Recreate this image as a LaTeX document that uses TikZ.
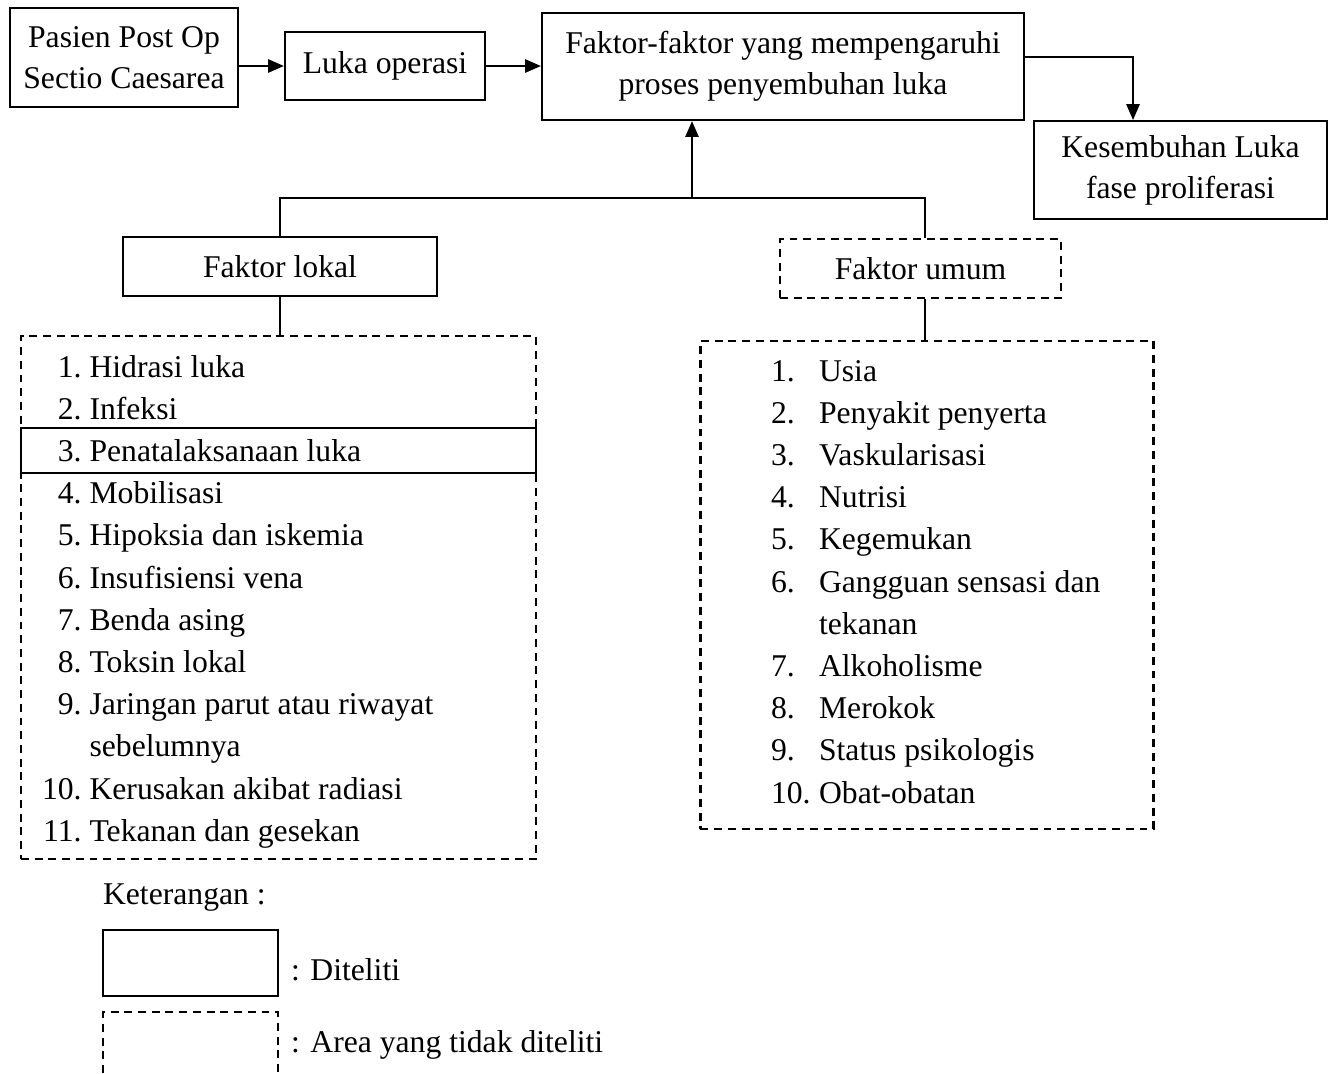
\documentclass[tikz,border=0pt]{standalone}
\usepackage{fontspec}
\setmainfont{Liberation Serif}
\usetikzlibrary{arrows.meta}

\begin{document}
\begin{tikzpicture}[
    x=0.379pt, y=-0.379pt,
    line width=0.8pt,
    every node/.style={font=\fontsize{12}{15.5}\selectfont},
    box/.style={draw, line width=0.8pt, inner sep=2pt, align=center},
    dbox/.style={box, dash pattern=on 3pt off 2.2pt},
    arrow/.style={-{Triangle[length=6pt,width=5pt]}},
    items/.style={inner sep=0pt, anchor=base west, font=\fontsize{12}{16}\selectfont}
]

    % Canvas
    \useasboundingbox (0,0) rectangle (1334,1073);

    % --- TOP ROW ---
    \node[box, minimum width=86.4pt, minimum height=37.5pt] (pasien) at (124,57.5) {Pasien Post Op\\Sectio Caesarea};
    \node[box, minimum width=75.8pt, minimum height=25.8pt] (luka) at (385,66) {Luka operasi};
    \node[box, minimum width=182.7pt, minimum height=40.6pt] (faktor) at (783,66.5) {Faktor-faktor yang mempengaruhi\\proses penyembuhan luka};
    \node[box, minimum width=111pt, minimum height=37.1pt] (sembuh) at (1180.5,170) {Kesembuhan Luka\\fase proliferasi};

    \draw[arrow] (pasien.east |- luka.west) -- (luka.west);
    \draw[arrow] (luka.east) -- (luka.east -| faktor.west);
    \draw[arrow] ([yshift=3.6pt]faktor.east) -| ([xshift=-18pt]sembuh.north);

    % --- FACTOR BRANCHES ---
    \node[box, minimum width=119pt, minimum height=22.4pt] (lokal) at (280,266.5) {Faktor lokal};
    \node[dbox, minimum width=106.5pt, minimum height=22.4pt] (umum) at (920.5,268.5) {Faktor umum};

    \coordinate (join) at (692,198);
    \draw[arrow] (join) -- (join |- faktor.south);
    \draw (lokal.north) |- (join) -| ([xshift=1.7pt]umum.north);

    % --- LOCAL FACTORS (list) ---
    \node[dbox, minimum width=195.2pt, minimum height=198.2pt] (lokallist) at (278.5,597.5) {};
    \node[box, minimum width=195.2pt, minimum height=17.1pt] (penata) at (278.5,450.5) {};
    \draw (lokal.south) -- (lokal.south |- lokallist.north);

    \node[items] (lokaltext) at (41,377) {%
        \begin{tabular}[t]{@{}r@{\ }l@{}}
        1. & Hidrasi luka\\
        2. & Infeksi\\
        3. & Penatalaksanaan luka\\
        4. & Mobilisasi\\
        5. & Hipoksia dan iskemia\\
        6. & Insufisiensi vena\\
        7. & Benda asing\\
        8. & Toksin lokal\\
        9. & Jaringan parut atau riwayat\\
           & sebelumnya\\
        10. & Kerusakan akibat radiasi\\
        11. & Tekanan dan gesekan
        \end{tabular}};

    % --- GENERAL FACTORS (list) ---
    \node[dbox, minimum width=171.7pt, minimum height=185pt] (umumlist) at (927,585) {};
    \draw ([xshift=1.7pt]umum.south) -- ([xshift=1.7pt]umum.south |- umumlist.north);

    \node[items] (umumtext) at (770,381) {%
        \begin{tabular}[t]{@{}p{18.2pt}@{}l@{}}
        1. & Usia\\
        2. & Penyakit penyerta\\
        3. & Vaskularisasi\\
        4. & Nutrisi\\
        5. & Kegemukan\\
        6. & Gangguan sensasi dan\\
           & tekanan\\
        7. & Alkoholisme\\
        8. & Merokok\\
        9. & Status psikologis\\
        10. & Obat-obatan
        \end{tabular}};

    % --- LEGEND ---
    \node[anchor=west, inner sep=0pt] (ket) at (102,898) {Keterangan :};
    \node[box, minimum width=66.3pt, minimum height=25pt] (legsolid) at (190.5,963) {};
    \node[anchor=west, inner sep=0pt] (legsolidtext) at (290,970) {: Diteliti};
    \draw[dash pattern=on 3pt off 2.2pt] (103,1073) |- (278,1012) -- (278,1073);
    \node[anchor=west, inner sep=0pt] (legdashtext) at (290,1045) {: Area yang tidak diteliti};

\end{tikzpicture}
\end{document}
